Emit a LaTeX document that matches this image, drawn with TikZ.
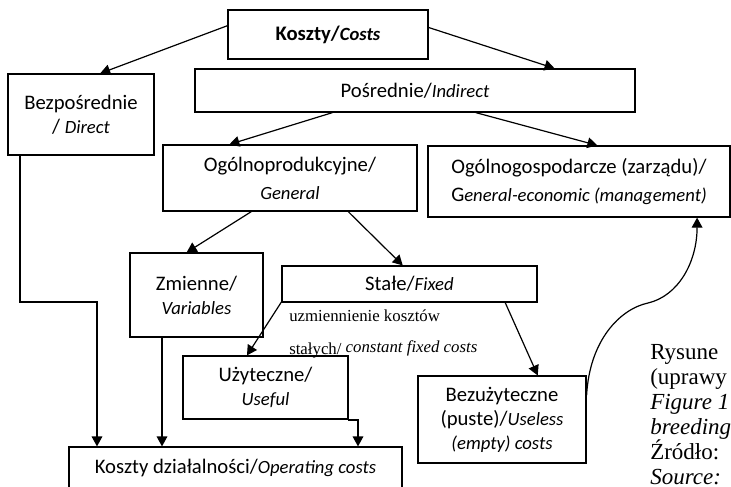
\documentclass[tikz,border=0pt]{standalone}
\usepackage{fontspec}
\setmainfont{Carlito}
\newfontfamily\capfont{Liberation Serif}
\usepackage{tikz}
\usetikzlibrary{arrows.meta}

\newcommand{\en}[1]{{\fontsize{14}{18}\selectfont\itshape #1}}

\tikzset{
  box/.style 2 args={draw, line width=0.9pt, align=center, inner sep=2pt,
    minimum width=#1*0.75pt, minimum height=#2*0.75pt,
    font=\fontsize{15.5}{18}\selectfont},
  link/.style={-{Triangle[length=7.5pt,width=8pt]}, line width=0.9pt},
  note/.style={inner sep=0pt, align=left, anchor=north west},
}

\begin{document}
\begin{tikzpicture}[x=0.75pt,y=-0.75pt]

\useasboundingbox (0,0) rectangle (731,486);
\clip (0,0) rectangle (731,486);

\node[box={200}{49}] (costs) at (328,34.5) {\textbf{Koszty/\en{Costs}}};
\node[box={146}{81}] (direct) at (81,114.5) {Bezpośrednie\\/ \en{Direct}};
\node[box={440}{43}] (indirect) at (415,90.5) {Pośrednie/\en{Indirect}};
\node[box={254}{66}] (general) at (290,178) {Ogólnoprodukcyjne/\\[3pt]\en{General}};
\node[box={302}{71}] (management) at (579,181.5) {Ogólnogospodarcze (zarządu)/\\[3pt]G\en{eneral-economic (management)}};
\node[box={133}{84}] (variables) at (196.5,295) {Zmienne/\\\en{Variables}};
\node[box={255}{36}] (fixed) at (409.5,284) {Stałe/\en{Fixed}};
\node[box={165}{63}] (useful) at (265.5,387.5) {Użyteczne/\\\en{Useful}};
\node[box={168}{87}] (useless) at (502,419.5) {Bezużyteczne\\(puste)/\en{Useless}\\\en{(empty) costs}};
\node[box={333}{42}] (operating) at (235.5,468) {Koszty działalności/\en{Operating costs}};

\node[note, font=\capfont\fontsize{12.6}{24.75}\selectfont] (shift) at (289,310)
  {uzmiennienie kosztów\\stałych/ \raisebox{2pt}{\itshape constant fixed costs}};
\node[note, font=\capfont\fontsize{17.25}{18.75}\selectfont] (caption) at (650,344)
  {Rysune\\(uprawy\\\textit{Figure 1}\\\textit{breeding}\\Źródło:\\\textit{Source:}};

\draw[link] (costs.175) -- (direct.65);
\draw[link] (costs.4) -- (indirect.9);
\draw[link] (indirect.195) -- (general.151);
\draw[link] (indirect.340) -- (management.63);
\draw[link] (general.221) -- (variables.103);
\draw[link] (general.330) -- (fixed.110);
\draw[link] (fixed.188) -- (useful.120);
\draw[link] (fixed.349) -- (useless.51);

\coordinate (bendD) at (97,302);
\coordinate (bendU) at (358,420);
\draw[link] (direct.214) |- (bendD) -- (bendD |- operating.north);
\draw[link] (variables.231) -- (variables.231 |- operating.north);
\draw[link] (useful.east) |- (bendU) -- (bendU |- operating.north);

\coordinate (bump) at (648,303);
\draw[link] (useless.16) .. controls +(3,-55) and +(-28,6) .. (bump)
  .. controls +(30,-7) and +(0,45) .. (management.343);

\end{tikzpicture}
\end{document}
